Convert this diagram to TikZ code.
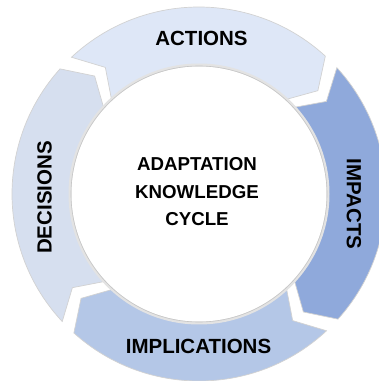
\documentclass[tikz,border=0pt]{standalone}
\usepackage{fontspec}
\setmainfont{Liberation Sans}
\definecolor{cAct}{RGB}{222,231,247}
\definecolor{cImp}{RGB}{143,169,219}
\definecolor{cImpl}{RGB}{180,199,231}
\definecolor{cDec}{RGB}{214,223,239}
\begin{document}
\begin{tikzpicture}[x=1pt,y=1pt,
  seg/.style={draw=gray!35, line width=0.7pt, line join=miter},
  lbl/.style={font=\bfseries\fontsize{20.5}{24}\selectfont, text=black, inner sep=0pt}]
\useasboundingbox (0,0) rectangle (379,381);
\clip (0,0) rectangle (379,381);
\coordinate (c) at (199,187);
\def\Ro{187pt}\def\Ri{128pt}\def\Rm{157.5pt}\def\dd{6.5}
\newcommand\ringseg[3]{%
 \filldraw[fill=#1, seg] ([shift={(#2:\Ro)}]c) arc[start angle=#2, end angle=#3, radius=\Ro]
   -- ([shift={({#3-\dd}:\Rm)}]c) -- ([shift={(#3:\Ri)}]c)
   arc[start angle=#3, end angle=#2, radius=\Ri]
   -- ([shift={({#2-\dd}:\Rm)}]c) -- cycle;}
\ringseg{cAct}{133}{47.5}
\ringseg{cImp}{42.5}{-42}
\ringseg{cImpl}{-47}{-132}
\ringseg{cDec}{223}{138}
\fill[gray!22] (c) circle[radius=130.5pt];
\fill[white] (c) circle[radius=127.5pt];
\draw[gray!45, line width=0.6pt] (c) circle[radius=128pt];
\node[lbl] (act) at (201.5,342.3) {ACTIONS};
\node[lbl, rotate=-90] (imp) at (354,177) {IMPACTS};
\node[lbl] (impl) at (198.5,35) {IMPLICATIONS};
\node[lbl, rotate=90] (dec) at (44.5,183.5) {DECISIONS};
\node[font=\bfseries\fontsize{18.7}{27.5}\selectfont, align=center, inner sep=0pt] (core) at (197,189) {ADAPTATION\\KNOWLEDGE\\CYCLE};
\end{tikzpicture}
\end{document}
